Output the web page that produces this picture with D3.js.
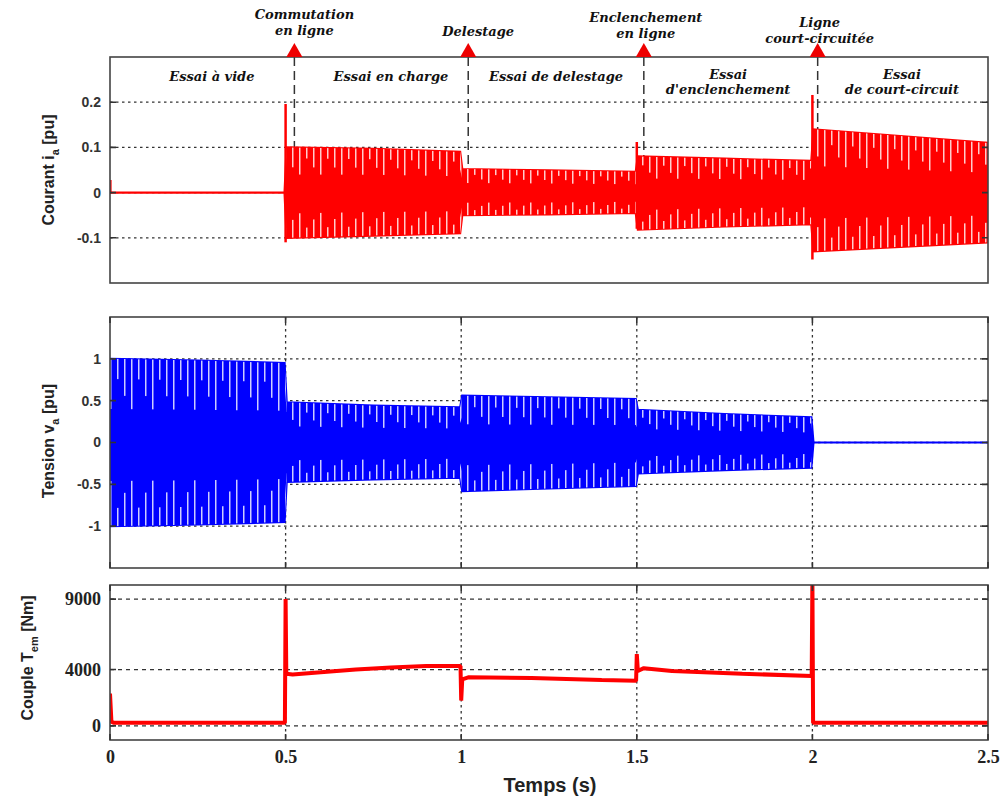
<!DOCTYPE html>
<html>
<head>
<meta charset="utf-8">
<script src="https://cdn.jsdelivr.net/npm/d3@7"></script>
<style>
  body { margin: 0; background: #fff; }
  svg { display: block; }
  .tick-sans { font-family: "Liberation Sans", Arial, sans-serif; font-weight: bold; font-size: 14px; fill: #333; }
  .tick-serif { font-family: "Liberation Serif", "Times New Roman", serif; font-weight: bold; font-size: 18px; fill: #222; }
  .ylab { font-family: "Liberation Sans", Arial, sans-serif; font-weight: bold; font-size: 16px; fill: #222; }
  .annot { font-family: "DejaVu Serif", "Liberation Serif", serif; font-weight: bold; font-style: italic; font-size: 13px; fill: #111; }
</style>
</head>
<body>
<script>
// ---- data -------------------------------------------------------------
var timeTicks    = [0, 0.5, 1, 1.5, 2, 2.5];
var courantTicks = [-0.1, 0, 0.1, 0.2];
var tensionTicks = [-1, -0.5, 0, 0.5, 1];
var coupleTicks  = [0, 4000, 9000];

// courant i_a : envelope of the oscillation (upper / lower)
var courantT  = [0, 0.497, 0.503, 0.75, 0.997, 1.003, 1.25, 1.497, 1.503, 1.75, 1.997, 2.003, 2.25, 2.5];
var courantHi = [0, 0, 0.10, 0.097, 0.09, 0.052, 0.049, 0.046, 0.08, 0.075, 0.07, 0.14, 0.125, 0.11];
var courantLo = [0, 0, -0.10, -0.095, -0.09, -0.05, -0.048, -0.045, -0.082, -0.075, -0.07, -0.13, -0.12, -0.11];
// transient peaks [t, min, max]
var courantPics = [[0.001, 0, 0.028], [0.5, -0.11, 0.196], [1.5, -0.08, 0.112], [2.0, -0.148, 0.216]];

// tension v_a
var tensionT  = [0, 0.25, 0.497, 0.503, 0.75, 0.997, 1.003, 1.25, 1.497, 1.503, 1.75, 1.997, 2.003, 2.5];
var tensionHi = [1.0, 0.98, 0.95, 0.48, 0.44, 0.42, 0.56, 0.54, 0.52, 0.39, 0.34, 0.3, 0, 0];
var tensionLo = [-1.0, -0.98, -0.95, -0.47, -0.44, -0.42, -0.58, -0.55, -0.52, -0.37, -0.33, -0.3, 0, 0];

// couple T_em
var coupleT = [0, 0.004, 0.01, 0.498, 0.5, 0.502, 0.52, 0.6, 0.7, 0.8, 0.9, 0.998, 1.0, 1.003, 1.02, 1.2, 1.4, 1.498, 1.5, 1.503, 1.52, 1.6, 1.8, 1.998, 2.0, 2.002, 2.5];
var coupleV = [2300, 300, 230, 230, 9000, 3700, 3650, 3800, 4000, 4150, 4250, 4250, 1800, 3300, 3450, 3400, 3250, 3200, 5100, 3900, 4100, 3900, 3700, 3550, 10500, 230, 230];

// annotations above the current plot
var evenements = [
  { t: 0.525, lignes: ["Commutation", "en ligne"], y0: 19 },
  { t: 1.02,  lignes: ["Delestage"], y0: 36 },
  { t: 1.52,  lignes: ["Enclenchement", "en ligne"], y0: 22 },
  { t: 2.015, lignes: ["Ligne", "court-circuitée"], y0: 27 }
];
var essais = [
  { t: 0.29, lignes: ["Essai à vide"] },
  { t: 0.80, lignes: ["Essai en charge"] },
  { t: 1.27, lignes: ["Essai de delestage"] },
  { t: 1.76, lignes: ["Essai", "d'enclenchement"] },
  { t: 2.255, lignes: ["Essai", "de court-circuit"] }
];

// ---- layout -----------------------------------------------------------
var W = 1006, H = 805;
var svg = d3.select('body').append('svg').attr('width', W).attr('height', H);
var defs = svg.append('defs');

var x = d3.scaleLinear().domain([0, 2.5]).range([110, 988]);

// streak textures (the light gaps visible in the dense oscillation)
var streaks = [{ id: 'st0', off: 0, depth: 0.30 }, { id: 'st1', off: 7, depth: 0.12 }, { id: 'st2', off: 14, depth: 0.22 }];
streaks.forEach(function(s) {
  defs.append('pattern').attr('id', s.id).attr('patternUnits', 'userSpaceOnUse')
    .attr('x', x(0) + s.off).attr('y', 0).attr('width', 21).attr('height', 10)
    .append('rect').attr('x', 0).attr('y', 0).attr('width', 1.5).attr('height', 10)
    .attr('fill', '#ffffff').attr('fill-opacity', 0.8);
});

var panels = [
  { id: 'courant', top: 57,  bottom: 283, domain: [-0.2, 0.3],  ticks: courantTicks, tickClass: 'tick-sans', grid: '2.5,3.5', vgrid: false },
  { id: 'tension', top: 317, bottom: 568, domain: [-1.5, 1.5],  ticks: tensionTicks, tickClass: 'tick-sans', grid: '2.5,3.5', vgrid: true },
  { id: 'couple',  top: 585, bottom: 740, domain: [-1000, 10000], ticks: coupleTicks, tickClass: 'tick-serif', grid: '4,4', vgrid: true }
];

panels.forEach(function(p) {
  p.y = d3.scaleLinear().domain(p.domain).range([p.bottom, p.top]);
  p.g = svg.append('g');
  defs.append('clipPath').attr('id', 'clip-' + p.id)
    .append('rect').attr('x', x(0)).attr('y', p.top)
    .attr('width', x(2.5) - x(0)).attr('height', p.bottom - p.top);

  // horizontal grid
  p.g.selectAll('.hg').data(p.ticks).enter().append('line')
    .attr('x1', x(0)).attr('x2', x(2.5))
    .attr('y1', function(d) { return p.y(d); }).attr('y2', function(d) { return p.y(d); })
    .attr('stroke', '#333').attr('stroke-width', 1.3).attr('stroke-dasharray', p.grid);

  // vertical grid
  if (p.vgrid) {
    p.g.selectAll('.vg').data(timeTicks.slice(1, -1)).enter().append('line')
      .attr('x1', function(d) { return x(d); }).attr('x2', function(d) { return x(d); })
      .attr('y1', p.top).attr('y2', p.bottom)
      .attr('stroke', '#333').attr('stroke-width', 1.3).attr('stroke-dasharray', '2.5,3.5');
  }

  // y tick labels
  var yAxis = d3.axisLeft(p.y).tickValues(p.ticks).tickSize(0).tickPadding(9)
    .tickFormat(function(d) { return d3.format('')(d).replace('−', '-'); });
  var ax = svg.append('g').attr('transform', 'translate(' + x(0) + ',0)').call(yAxis);
  ax.select('.domain').remove();
  ax.selectAll('text').attr('class', p.tickClass).attr('fill', null);
});

// band drawn from the envelope, with light streaks along both edges
function drawBand(g, data, y, color) {
  g.append('path').datum(data)
    .attr('d', d3.area().x(function(d) { return x(d.t); })
      .y0(function(d) { return y(d.lo); }).y1(function(d) { return y(d.hi); }))
    .attr('fill', color).attr('stroke', color).attr('stroke-width', 2.2);
  streaks.forEach(function(s) {
    var top = d3.area().x(function(d) { return x(d.t); })
      .y0(function(d) { return y(d.hi - s.depth * (d.hi - d.lo)); }).y1(function(d) { return y(d.hi); });
    var bot = d3.area().x(function(d) { return x(d.t); })
      .y0(function(d) { return y(d.lo); }).y1(function(d) { return y(d.lo + s.depth * (d.hi - d.lo) * 0.9); });
    g.append('path').datum(data).attr('d', top).attr('fill', 'url(#' + s.id + ')');
    g.append('path').datum(data).attr('d', bot).attr('fill', 'url(#' + s.id + ')');
  });
}

// ---- courant ----------------------------------------------------------
var pc = panels[0];
var courantData = courantT.map(function(t, i) { return { t: t, hi: courantHi[i], lo: courantLo[i] }; });

// event dashed markers (behind the data)
pc.g.selectAll('.ev').data(evenements).enter().append('line')
  .attr('x1', function(d) { return x(d.t); }).attr('x2', function(d) { return x(d.t); })
  .attr('y1', pc.top).attr('y2', pc.y(0))
  .attr('stroke', '#333').attr('stroke-width', 1.5).attr('stroke-dasharray', '9,5');

var gc = svg.append('g').attr('clip-path', 'url(#clip-courant)');
drawBand(gc, courantData, pc.y, '#ff0000');
gc.selectAll('.pic').data(courantPics).enter().append('line')
  .attr('x1', function(d) { return x(d[0]); }).attr('x2', function(d) { return x(d[0]); })
  .attr('y1', function(d) { return pc.y(d[1]); }).attr('y2', function(d) { return pc.y(d[2]); })
  .attr('stroke', '#ff0000').attr('stroke-width', 2.5);

// ---- tension ----------------------------------------------------------
var pt = panels[1];
var tensionData = tensionT.map(function(t, i) { return { t: t, hi: tensionHi[i], lo: tensionLo[i] }; });
drawBand(svg.append('g').attr('clip-path', 'url(#clip-tension)'), tensionData, pt.y, '#0000ff');

// ---- couple -----------------------------------------------------------
var pk = panels[2];
var coupleData = coupleT.map(function(t, i) { return { t: t, v: coupleV[i] }; });
svg.append('g').attr('clip-path', 'url(#clip-couple)')
  .append('path').datum(coupleData)
  .attr('d', d3.line().x(function(d) { return x(d.t); }).y(function(d) { return pk.y(d.v); }))
  .attr('fill', 'none').attr('stroke', '#ff0000').attr('stroke-width', 4).attr('stroke-linejoin', 'bevel');

// ---- frames + small ticks --------------------------------------------
panels.forEach(function(p) {
  var f = svg.append('g');
  f.append('rect').attr('x', x(0)).attr('y', p.top)
    .attr('width', x(2.5) - x(0)).attr('height', p.bottom - p.top)
    .attr('fill', 'none').attr('stroke', '#444').attr('stroke-width', 1.6);
  var xt = p.vgrid ? timeTicks : [];
  f.selectAll('.xt').data(xt).enter().append('path')
    .attr('d', function(d) { return 'M' + x(d) + ',' + p.top + 'v6M' + x(d) + ',' + p.bottom + 'v-6'; })
    .attr('stroke', '#333').attr('stroke-width', 1.6);
  f.selectAll('.yt').data(p.ticks).enter().append('path')
    .attr('d', function(d) { return 'M' + x(0) + ',' + p.y(d) + 'h6M' + x(2.5) + ',' + p.y(d) + 'h-6'; })
    .attr('stroke', '#333').attr('stroke-width', 1.6);
});

// x tick labels under the torque panel
var xAxis = d3.axisBottom(x).tickValues(timeTicks).tickSize(0).tickPadding(10).tickFormat(d3.format(''));
var xa = svg.append('g').attr('transform', 'translate(0,' + pk.bottom + ')').call(xAxis);
xa.select('.domain').remove();
xa.selectAll('text').attr('class', 'tick-serif').attr('fill', null);

svg.append('text').attr('x', 550).attr('y', 792).attr('text-anchor', 'middle')
  .attr('class', 'ylab').style('font-size', '20px').text('Temps (s)');

// ---- y labels ---------------------------------------------------------
function yLabel(cx, cy, parts) {
  var t = svg.append('text').attr('class', 'ylab')
    .attr('transform', 'translate(' + cx + ',' + cy + ') rotate(-90)')
    .attr('text-anchor', 'middle');
  parts.forEach(function(pt) {
    var s = t.append('tspan').text(pt.s);
    if (pt.sub) s.attr('dy', 5).style('font-size', '11px');
    if (pt.back) s.attr('dy', -5);
  });
}
yLabel(54, 170, [{ s: 'Courant  i' }, { s: 'a', sub: true }, { s: ' [pu]', back: true }]);
yLabel(54, 441, [{ s: 'Tension v' }, { s: 'a', sub: true }, { s: ' [pu]', back: true }]);
yLabel(33, 658, [{ s: 'Couple  T' }, { s: 'em', sub: true }, { s: ' [Nm]', back: true }]);

// ---- annotations ------------------------------------------------------
var ann = svg.append('g');
evenements.forEach(function(e) {
  var cx = x(e.t);
  ann.append('path')
    .attr('d', 'M' + (cx - 8) + ',' + pc.top + 'L' + cx + ',' + (pc.top - 14) + 'L' + (cx + 8) + ',' + pc.top + 'Z')
    .attr('fill', '#ee0000');
  e.lignes.forEach(function(l, i) {
    ann.append('text').attr('class', 'annot').attr('text-anchor', 'middle')
      .attr('x', cx + (e.t < 1.5 ? 10 : 2)).attr('y', e.y0 + i * 16).text(l);
  });
});
essais.forEach(function(e) {
  var y0 = e.lignes.length > 1 ? 79 : 81;
  e.lignes.forEach(function(l, i) {
    ann.append('text').attr('class', 'annot').attr('text-anchor', 'middle')
      .attr('x', x(e.t)).attr('y', y0 + i * 15).text(l);
  });
});
</script>
</body>
</html>
